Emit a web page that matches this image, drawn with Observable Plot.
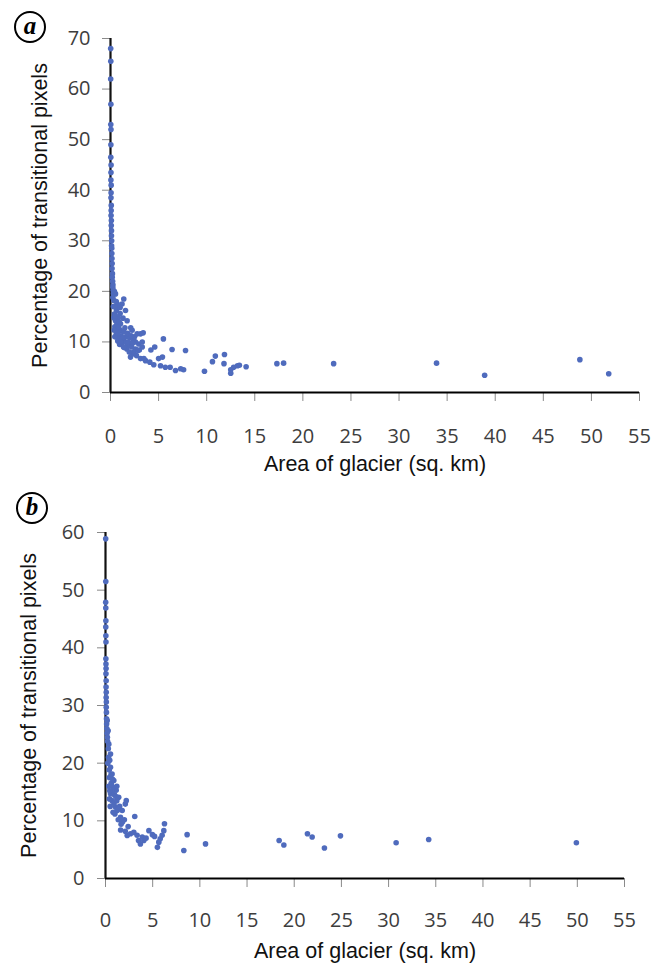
<!DOCTYPE html>
<html>
<head>
<meta charset="utf-8">
<script src="https://cdn.jsdelivr.net/npm/d3@7"></script>
<script src="https://cdn.jsdelivr.net/npm/@observablehq/plot@0.6"></script>
<style>
  html, body { margin: 0; padding: 0; background: #fff; }
  #wrap { position: relative; width: 661px; height: 972px; overflow: hidden; background: #fff; }
  .panel { position: absolute; left: 0; z-index: 1; }
  .tag { position: absolute; z-index: 5; width: 28px; height: 28px; border: 2px solid #000; border-radius: 50%;
         font-family: "Liberation Serif", "DejaVu Serif", serif; font-style: italic; font-weight: bold;
         font-size: 25px; line-height: 26px; text-align: center; color: #000; background: transparent; }
</style>
</head>
<body>
<div id="wrap">
  <div id="pa" class="panel" style="top:0px;"></div>
  <div id="pb" class="panel" style="top:490px;"></div>
  <div class="tag" style="left:14px; top:11px;">a</div>
  <div class="tag" style="left:16px; top:492px;">b</div>
</div>
<script>
// ---------- Data ----------
const xTicks = [0, 5, 10, 15, 20, 25, 30, 35, 40, 45, 50, 55];
const yTicksA = [0, 10, 20, 30, 40, 50, 60, 70];
const yTicksB = [0, 10, 20, 30, 40, 50, 60];
const xTitle = "Area of glacier (sq. km)";
const yTitle = "Percentage of transitional pixels";

// Panel a: area (sq. km) and percentage of transitional pixels
const areaA = [
  0.02,0.03,0.02,0.04,0.03,0.05,0.04,0.03,0.06,0.05,0.04,0.07,0.06,0.05,0.08,0.07,0.06,0.09,0.08,0.10,
  0.10,0.12,0.11,0.13,0.14,0.15,0.17,0.16,0.20,0.18,0.22,0.25,0.24,0.28,0.30,
  0.35,0.52,0.62,0.52,0.69,0.87,1.04,1.20,1.38,1.56,1.00,1.73,1.38,1.90,2.08,2.25,2.25,2.42,2.60,2.77,
  2.94,3.12,3.30,0.30,0.40,0.45,0.60,0.75,0.90,1.10,1.20,1.50,1.60,1.70,2.00,2.10,2.40,2.70,3.00,0.80,
  0.70,1.30,0.95,1.45,1.80,2.20,2.60,3.30,3.40,0.40,0.25,0.55,1.15,0.65,
  0.35,0.50,0.45,0.60,0.85,1.00,1.25,1.40,1.65,1.85,2.30,2.50,2.85,0.38,0.75,1.05,1.35,1.95,2.15,0.90,
  3.12,3.64,4.09,4.50,5.00,5.20,5.70,6.20,6.76,7.30,7.60,5.40,3.47,4.20,4.60,5.50,6.40,7.80,
  9.77,10.6,10.9,11.85,11.8,12.5,12.5,12.8,13.2,13.4,14.1,17.3,18.0,23.2,33.9,38.9,48.8,51.8
];
const pctA = [
  68,65.5,62,57,53,52,49,46.5,45,43.5,42,41,39.5,38.5,37,36,35,34,33,32,
  31,30,29,28.5,27.5,26.5,25.5,24.5,23.5,22.8,22,21.3,20.8,20.2,19.6,
  18.2,19.5,16.2,14.2,12.3,10.9,13.6,17.5,18.5,16.2,15.6,14.2,10.3,9.3,7.0,7.6,12.3,10.3,8.6,11.6,
  9.6,11.6,10.0,17.0,15.5,13.0,11.5,10.2,12.5,11.2,9.8,12.8,11.0,8.6,10.8,12.8,8.0,7.3,8.4,14.8,
  17.5,14.7,9.5,8.9,11.7,9.0,10.0,9.0,11.8,20.0,18.8,16.8,12.2,13.4,
  14.8,15.2,11.0,18.0,13.0,16.8,10.8,12.0,9.9,10.0,9.8,11.0,8.3,12.3,11.8,10.0,9.0,8.0,11.2,14.0,
  6.7,6.3,6.0,5.5,6.7,5.3,5.0,5.0,4.35,4.7,4.5,7.0,6.7,8.4,9.0,10.6,8.5,8.3,
  4.2,6.1,7.2,7.5,5.7,4.5,3.8,5.0,5.3,5.4,5.1,5.7,5.8,5.7,5.8,3.4,6.5,3.7
];

// Panel b
const areaB = [
  0.02,0.03,0.02,0.03,0.04,0.03,0.04,0.05,0.04,0.05,0.06,0.05,0.07,0.06,0.08,0.07,0.09,0.08,0.10,0.11,
  0.12,0.14,0.16,0.20,
  0.18,0.28,0.35,0.53,0.53,0.70,0.88,1.13,1.40,0.53,0.70,0.42,1.06,1.24,1.59,1.77,2.10,2.20,
  1.60,2.10,2.30,2.65,3.00,3.10,3.35,3.50,3.90,4.06,4.60,4.97,5.20,5.50,5.65,5.80,6.00,6.18,6.25,
  0.30,0.45,0.60,0.80,0.95,0.40,0.65,0.90,1.20,1.00,1.35,1.50,1.80,2.00,1.20,0.25,0.35,0.50,0.80,2.40,4.30,3.70,
  0.22,0.32,0.40,0.58,0.75,1.10,1.30,0.62,0.45,1.65,
  8.30,8.65,10.6,18.4,18.9,21.4,21.9,23.2,24.9,30.8,34.25,49.9
];
const pctB = [
  58.9,51.5,47.9,46.9,44.7,43.6,42.1,41.0,38.1,37.2,36.4,35.5,34.3,33.2,32.3,31.4,30.6,29.7,28.8,27.7,
  26.8,26.0,25.2,24.5,
  27.4,25.6,23.3,21.6,19.3,18.1,17.0,15.3,14.1,14.7,13.5,13.8,12.4,11.8,10.6,11.8,12.9,13.5,
  8.4,8.2,7.45,7.75,8.0,10.75,7.5,6.6,7.2,6.6,8.3,7.6,7.3,5.4,6.3,6.9,7.5,8.3,9.5,
  22.5,20.5,16.5,15.8,14.5,17.5,15.0,13.0,13.5,11.2,10.2,12.5,9.8,10.2,16.0,20.0,16.0,12.5,11.5,9.0,7.0,6.0,
  23.8,21.0,18.8,18.0,17.2,14.2,12.0,16.2,15.2,9.4,
  4.86,7.6,6.0,6.6,5.8,7.75,7.2,5.3,7.4,6.2,6.76,6.2
];

// ---------- Drawing ----------
const dotColor = "#4f6bbd";
const tickText = "#3d3d3d";

function panel({area, pct, yMax, yTicks, height, marginTop, marginBottom, marginLeft, marginRight,
                xPad, yPad, xTitleDy, yTitleDx}) {
  const data = area.map((a, i) => ({area: a, pct: pct[i]}));
  return Plot.plot({
    width: 661,
    height,
    marginTop, marginBottom, marginLeft, marginRight,
    style: {fontFamily: "'Open Sans', sans-serif", fontSize: "20px", background: "transparent", overflow: "visible"},
    x: {domain: [0, 55]},
    y: {domain: [0, yMax]},
    marks: [
      Plot.axisX({ticks: xTicks, tickSize: 9, tickPadding: xPad, stroke: "#8a8a8a", fill: tickText,
                  fontSize: 20, label: null, tickFormat: d => String(d)}),
      Plot.axisY({ticks: yTicks, tickSize: 8, tickPadding: yPad, stroke: "#8a8a8a", fill: tickText,
                  fontSize: 20, label: null, tickFormat: d => String(d)}),
      Plot.ruleY([0], {stroke: "#000", strokeWidth: 2.2}),
      Plot.ruleX([0], {stroke: "#111", strokeWidth: 2.2}),
      Plot.dot(data, {x: "area", y: "pct", r: 2.8, fill: dotColor, stroke: "none"}),
      Plot.text([xTitle], {frameAnchor: "bottom", dy: xTitleDy, text: d => d, fontSize: 21.5,
                 textAnchor: "middle", fontFamily: "'Liberation Sans', Arial, sans-serif", fill: "#111"}),
      Plot.text([yTitle], {frameAnchor: "left", dx: yTitleDx, rotate: -90, text: d => d, fontSize: 21.5,
                 textAnchor: "middle", fontFamily: "'Liberation Sans', Arial, sans-serif", fill: "#111"})
    ]
  });
}

document.getElementById("pa").append(panel({
  area: areaA, pct: pctA, yMax: 70, yTicks: yTicksA,
  height: 480, marginTop: 38, marginBottom: 88, marginLeft: 110, marginRight: 22,
  xPad: 27, yPad: 12, xTitleDy: 78, yTitleDx: -70
}));

document.getElementById("pb").append(panel({
  area: areaB, pct: pctB, yMax: 60, yTicks: yTicksB,
  height: 482, marginTop: 42, marginBottom: 94, marginLeft: 105, marginRight: 37,
  xPad: 25, yPad: 13, xTitleDy: 79, yTitleDx: -76
}));
</script>
</body>
</html>
